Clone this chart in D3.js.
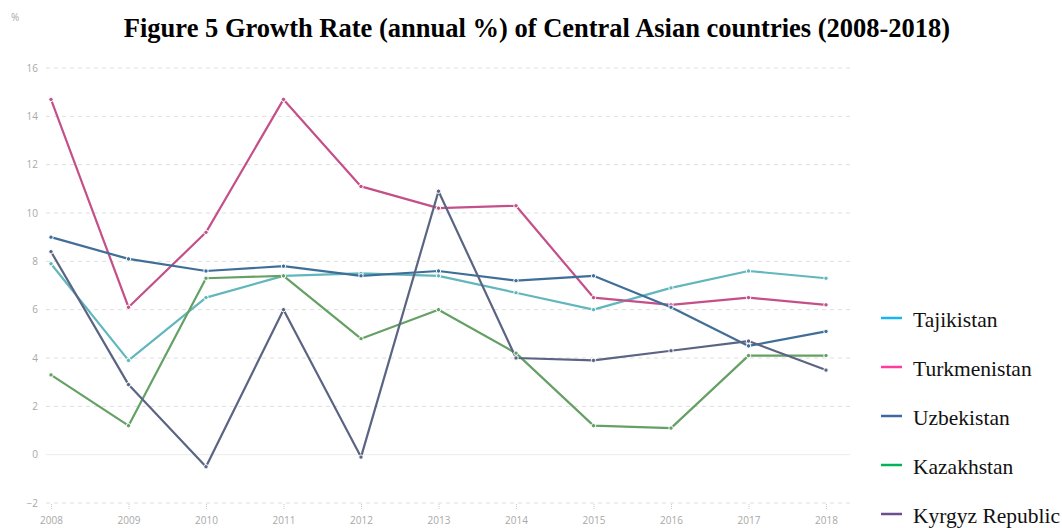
<!DOCTYPE html>
<html>
<head>
<meta charset="utf-8">
<script src="https://cdn.jsdelivr.net/npm/d3@7"></script>
<style>
  body { margin: 0; background: #fff; }
  .tick text { font-family: "Open Sans", sans-serif; }
</style>
</head>
<body>
<div id="chart"></div>
<script>
// chart size
const width = 1062;
const height = 528;

const years = [2008, 2009, 2010, 2011, 2012, 2013, 2014, 2015, 2016, 2017, 2018];
const yTicks = [-2, 0, 2, 4, 6, 8, 10, 12, 14, 16];

// growth rates
const tajikistan   = [7.9, 3.9, 6.5, 7.4, 7.5, 7.4, 6.7, 6.0, 6.9, 7.6, 7.3];
const turkmenistan = [14.7, 6.1, 9.2, 14.7, 11.1, 10.2, 10.3, 6.5, 6.2, 6.5, 6.2];
const uzbekistan   = [9.0, 8.1, 7.6, 7.8, 7.4, 7.6, 7.2, 7.4, 6.1, 4.5, 5.1];
const kazakhstan   = [3.3, 1.2, 7.3, 7.4, 4.8, 6.0, 4.2, 1.2, 1.1, 4.1, 4.1];
const kyrgyz       = [8.4, 2.9, -0.5, 6.0, -0.1, 10.9, 4.0, 3.9, 4.3, 4.7, 3.5];

const seriesNames = ["Tajikistan", "Turkmenistan", "Uzbekistan", "Kazakhstan", "Kyrgyz Republic"];
const seriesValues = [tajikistan, turkmenistan, uzbekistan, kazakhstan, kyrgyz];
const lineColors = ["#62b7bc", "#c4508a", "#3f6f98", "#65a065", "#5b6482"];
const legendColors = ["#1ab4ee", "#ff3aa0", "#3c6aa0", "#00b457", "#6b4f90"];

const svg = d3.select("#chart")
  .append("svg")
  .attr("width", width)
  .attr("height", height);

// title
svg.append("text")
  .attr("x", 537)
  .attr("y", 37)
  .attr("text-anchor", "middle")
  .style("font-family", "'Liberation Serif', 'Times New Roman', serif")
  .style("font-weight", "bold")
  .style("font-size", "26.5px")
  .text("Figure 5 Growth Rate (annual %) of Central Asian countries (2008-2018)");

const x = d3.scalePoint()
  .domain(years)
  .range([51, 826]);

const y = d3.scaleLinear()
  .domain([-2, 16])
  .range([503, 68]);

// grid lines
svg.append("g")
  .selectAll("line")
  .data(yTicks)
  .enter()
  .append("line")
  .attr("x1", 46)
  .attr("x2", 850)
  .attr("y1", d => y(d))
  .attr("y2", d => y(d))
  .attr("stroke", d => d === 0 ? "#ececec" : "#dedede")
  .attr("stroke-width", 1)
  .attr("stroke-dasharray", d => d === 0 ? null : "4,4");

// y axis labels
const yAxis = d3.axisLeft(y).tickValues(yTicks).tickSize(0).tickPadding(0);
svg.append("g")
  .attr("transform", "translate(38,0)")
  .call(yAxis)
  .call(g => g.select(".domain").remove())
  .call(g => g.selectAll("text").attr("fill", "#a8a8a8").style("font-size", "10px"));

svg.append("text")
  .attr("x", 11)
  .attr("y", 21)
  .attr("fill", "#a8a8a8")
  .style("font-family", "'Open Sans', sans-serif")
  .style("font-size", "10px")
  .text("%");

// x axis
const xAxis = d3.axisBottom(x).tickSize(5).tickPadding(8);
svg.append("g")
  .attr("transform", `translate(0,${y(-2) + 1})`)
  .call(xAxis)
  .call(g => g.select(".domain").remove())
  .call(g => g.selectAll("line").attr("stroke", "#cccccc").attr("stroke-dasharray", "1,1"))
  .call(g => g.selectAll("text").attr("fill", "#a8a8a8").style("font-size", "10px"));

const line = d3.line()
  .x((d, i) => x(years[i]))
  .y(d => y(d));

seriesValues.forEach((vals, k) => {
  svg.append("path")
    .datum(vals)
    .attr("fill", "none")
    .attr("stroke", lineColors[k])
    .attr("stroke-width", 2.2)
    .attr("stroke-linejoin", "round")
    .attr("d", line);
});

// points drawn after all lines
seriesValues.forEach((vals, k) => {
  svg.append("g")
    .selectAll("circle")
    .data(vals)
    .enter()
    .append("circle")
    .attr("cx", (d, i) => x(years[i]))
    .attr("cy", d => y(d))
    .attr("r", 2.2)
    .attr("fill", lineColors[k])
    .attr("stroke", "#ffffff")
    .attr("stroke-width", 1);
});

// legend
const legend = svg.append("g")
  .selectAll("g")
  .data(seriesNames)
  .enter()
  .append("g")
  .attr("transform", (d, i) => `translate(881,${318 + i * 49})`);

legend.append("line")
  .attr("x1", 0)
  .attr("x2", 21)
  .attr("y1", 0)
  .attr("y2", 0)
  .attr("stroke", (d, i) => legendColors[i])
  .attr("stroke-width", 2.5);

legend.append("text")
  .attr("x", 32)
  .attr("y", 9)
  .style("font-family", "'Liberation Serif', 'Times New Roman', serif")
  .style("font-size", "21.5px")
  .attr("fill", "#111")
  .text(d => d);
</script>
</body>
</html>
